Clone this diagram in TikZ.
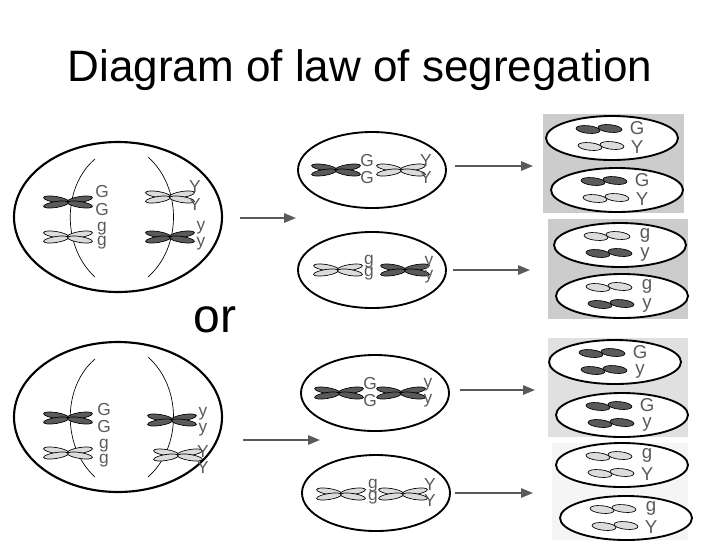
\documentclass[tikz,border=0pt]{standalone}
\usepackage{fontspec}
\setmainfont{Liberation Sans}
\usetikzlibrary{arrows.meta,shapes.geometric}
\definecolor{dk}{HTML}{5A5A5A}
\definecolor{lt}{HTML}{DCDCDC}
\newcommand\capsule[6]{\draw[fill=#4,line width=0.5pt,rotate around={#3:(#1,#2)}] (#1,#2) ellipse (#5 and #6);}
% X-shaped chromosome pair
\newcommand\chrX[3]{%
 \capsule{#1-12}{#2-2.5}{-9}{#3}{12.5}{3}\capsule{#1+12}{#2-2.5}{9}{#3}{12.5}{3}%
 \capsule{#1-12}{#2+2.5}{9}{#3}{12.5}{3}\capsule{#1+12}{#2+2.5}{-9}{#3}{12.5}{3}}
% single chromosome
\newcommand\chrS[3]{%
 \capsule{#1-11}{#2+0.5}{-6}{#3}{12}{3.8}\capsule{#1+11}{#2-0.5}{-6}{#3}{12}{3.8}}
\tikzset{
 big/.style={draw,ellipse,line width=1.6pt},
 arr/.style={-{Triangle[length=9pt,width=7pt]},line width=1.5pt,draw=dk},
 lab/.style={font=\fontsize{13}{13}\selectfont,text=dk,inner sep=0pt},
 slab/.style={font=\fontsize{14}{14}\selectfont,text=dk,inner sep=0pt},
 spin/.style={line width=0.5pt}
}
\begin{document}
\begin{tikzpicture}[x=0.75pt,y=-0.75pt]
\useasboundingbox (0,0) rectangle (720,540);
\node[font=\fontsize{33}{33}\selectfont] (title) at (360,70) {Diagram of law of segregation};
\node[font=\fontsize{36}{36}\selectfont] (or) at (215,320) {or};
% ---- big cells
\foreach \cy/\n in {217/A,417/B}{
 \node[big,minimum width=208*0.75pt,minimum height=150*0.75pt] (big\n) at (118,\cy) {};
 \draw[spin] (95,\cy-58) .. controls (62,\cy-30) and (62,\cy+30) .. (95,\cy+60);
 \draw[spin] (148,\cy-60) .. controls (182,\cy-30) and (182,\cy+30) .. (148,\cy+60);
}
% cell A contents
\chrX{68}{202}{dk}\chrX{68}{237}{lt}\chrX{170}{197}{lt}\chrX{170}{237}{dk}
\node[lab] (a1) at (102,192) {G};\node[lab] (a2) at (102,210) {G};
\node[lab] (a3) at (102,229) {g};\node[lab] (a4) at (102,243) {g};
\node[lab] (a5) at (195,187) {Y};\node[lab] (a6) at (195,205) {Y};
\node[lab] (a7) at (201,228) {y};\node[lab] (a8) at (201,244) {y};
% cell B contents
\chrX{68}{418}{dk}\chrX{68}{453}{lt}\chrX{172}{420}{dk}\chrX{178}{455}{lt}
\node[lab] (b1) at (104,410) {G};\node[lab] (b2) at (104,427) {G};
\node[lab] (b3) at (104,446) {g};\node[lab] (b4) at (104,461) {g};
\node[lab] (b5) at (203,414) {y};\node[lab] (b6) at (203,430) {y};
\node[lab] (b7) at (203,452) {Y};\node[lab] (b8) at (203,468) {Y};
\coordinate (sA) at (240,218);\coordinate (pA) at (296,218);
\coordinate (sB) at (243,440);\coordinate (pB) at (320,440);
\draw[arr] (sA) -- (pA);
\draw[arr] (sB) -- (pB);
% ---- middle cells
\foreach \cx/\cy/\n in {372/170/1,372/270/2,375/393/3,376/493/4}{
 \node[draw,ellipse,line width=1.4pt,minimum width=148*0.75pt,minimum height=76*0.75pt] (m\n) at (\cx,\cy) {};}
\chrX{336}{170}{dk}\chrX{401}{170}{lt}
\node[lab] at (367,161) {G};\node[lab] at (367,178) {G};
\node[lab] at (426,161) {Y};\node[lab] at (426,178) {Y};
\chrX{338}{270}{lt}\chrX{405}{270}{dk}
\node[lab] at (369,262) {g};\node[lab] at (369,274) {g};
\node[lab] at (429,263) {y};\node[lab] at (429,277) {y};
\chrX{339}{393}{dk}\chrX{401}{393}{dk}
\node[lab] at (370,384) {G};\node[lab] at (370,401) {G};
\node[lab] at (428,385) {y};\node[lab] at (428,401) {y};
\chrX{341}{494}{lt}\chrX{403}{494}{lt}
\node[lab] at (373,486) {g};\node[lab] at (373,498) {g};
\node[lab] at (430,485) {Y};\node[lab] at (430,501) {Y};
% ---- right panels
\fill[black!20] (543,114) rectangle (684,213);
\fill[black!20] (548,219) rectangle (688,319);
\fill[black!12] (548,338) rectangle (688,437);
\fill[black!4] (552,443) rectangle (688,540);
\foreach \cx/\cy/\n/\ca/\la/\cb/\lb in {
 612/138/1/dk/G/lt/Y, 617/190/2/dk/G/lt/Y,
 620/245/3/lt/g/dk/y, 622/296/4/lt/g/dk/y,
 615/362/5/dk/G/dk/y, 622/415/6/dk/G/dk/y,
 622/465/7/lt/g/lt/Y, 626/518/8/lt/g/lt/Y}{
 \node[draw,fill=white,ellipse,line width=1.4pt,minimum width=132*0.75pt,minimum height=44*0.75pt] (r\n) at (\cx,\cy) {};
 \chrS{\cx-13}{\cy-9}{\ca}
 \chrS{\cx-11}{\cy+8}{\cb}
 \node[slab] at (\cx+25,\cy-10) {\la};
 \node[slab] at (\cx+25,\cy+9) {\lb};
}
\coordinate (s1) at (455,166);\coordinate (e1) at (533,166);
\coordinate (s2) at (453,270);\coordinate (e2) at (530,270);
\coordinate (s3) at (460,390);\coordinate (e3) at (535,390);
\coordinate (s4) at (455,493);\coordinate (e4) at (533,493);
\foreach \i in {1,...,4}{\draw[arr] (s\i) -- (e\i);}
\end{tikzpicture}
\end{document}
